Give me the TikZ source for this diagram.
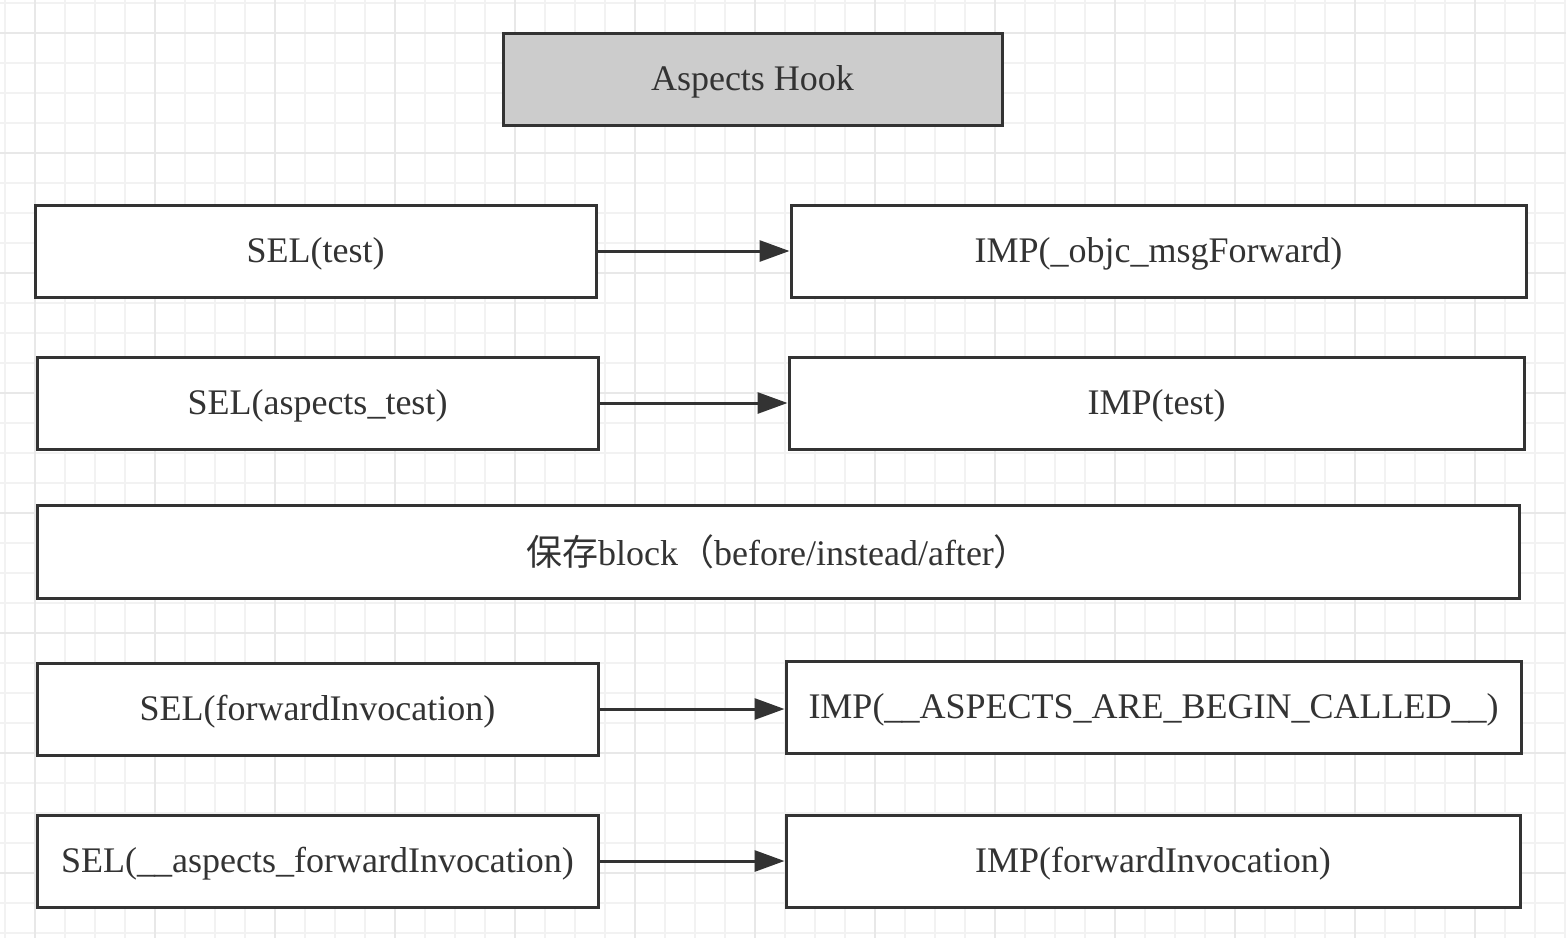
\documentclass[tikz,border=0pt]{standalone}
\usepackage{fontspec}
\setmainfont{Liberation Serif}
\newfontfamily\cjk{Noto Sans CJK SC}
\usetikzlibrary{arrows.meta}
\begin{document}
\begin{tikzpicture}[x=1pt,y=-1pt,
    box/.style={draw=kDark,line width=3pt,fill=white,inner sep=0pt,text=kDark,
                text height=25pt,text depth=3pt,font=\fontsize{36}{42}\selectfont},
    link/.style={draw=kDark,line width=3pt,-{Triangle[length=30pt,width=21pt]}}]
  % colors
  \definecolor{kDark}{rgb}{0.2,0.2,0.2}
  \definecolor{kHead}{rgb}{0.8,0.8,0.8}
  \definecolor{kMinor}{rgb}{0.95,0.95,0.95}
  \definecolor{kMajor}{rgb}{0.91,0.91,0.91}
  \useasboundingbox[fill=white] (0,0) rectangle (1566,938);

  % grids
  \foreach \x in {5,35,...,1565} {
    \draw[color=kMinor,line width=1.5pt] (\x,0) -- (\x,938);
  };
  \foreach \y in {3,33,...,938} {
    \draw[color=kMinor,line width=1.5pt] (0,\y) -- (1566,\y);
  };
  \foreach \x in {35,155,...,1565} {
    \draw[color=kMajor,line width=2pt] (\x,0) -- (\x,938);
  };
  \foreach \y in {33,153,...,938} {
    \draw[color=kMajor,line width=2pt] (0,\y) -- (1566,\y);
  };

  % title
  \node[box,fill=kHead,minimum width=499pt,minimum height=92pt] (hook) at (752.5,79) {Aspects Hook};

  % selectors and implementations
  \node[box,minimum width=561pt,minimum height=92pt] (seltest) at (315.5,251) {SEL(test)};
  \node[box,minimum width=735pt,minimum height=92pt] (impfwd) at (1158.5,251) {IMP(\_objc\_msgForward)};
  \node[box,minimum width=561pt,minimum height=92pt] (selasp) at (317.5,403) {SEL(aspects\_test)};
  \node[box,minimum width=735pt,minimum height=92pt] (imptest) at (1156.5,403) {IMP(test)};
  \node[box,minimum width=1482pt,minimum height=93pt,text height=28pt,text depth=0pt] (block) at (778,551.5)
    {{\cjk 保存}block{\cjk （}before/instead/after{\cjk ）}};
  \node[box,minimum width=561pt,minimum height=92pt] (selinv) at (317.5,709) {SEL(forwardInvocation)};
  \node[box,minimum width=735pt,minimum height=92pt] (impcalled) at (1153.5,707) {IMP(\_\kern-1pt\_ASPECTS\_ARE\_BEGIN\_CALLED\_\kern-1pt\_)};
  \node[box,minimum width=561pt,minimum height=92pt] (selaspinv) at (317.5,861) {SEL(\_\kern-1pt\_aspects\_forwardInvocation)};
  \node[box,minimum width=734pt,minimum height=92pt] (impinv) at (1153,861) {IMP(forwardInvocation)};

  % links
  \draw[link] (seltest.east) -- (impfwd.west);
  \draw[link] (selasp.east) -- (imptest.west);
  \draw[link] (selinv.east) -- (impcalled.west |- selinv.east);
  \draw[link] (selaspinv.east) -- (impinv.west);
\end{tikzpicture}
\end{document}
